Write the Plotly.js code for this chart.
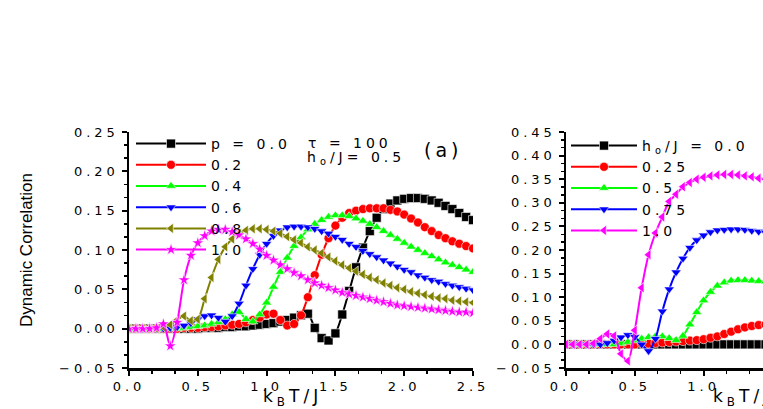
<!DOCTYPE html>
<html>
<head>
<meta charset="utf-8">
<script src="https://cdn.plot.ly/plotly-3.0.1.min.js"></script>
<style>
  body { margin: 0; background: #fff; }
  text { letter-spacing: 4px; }
  .ytitle { letter-spacing: 0 !important; }
</style>
</head>
<body>
<div id="plot" style="width:763px;height:409px;"></div>
<script>
// Panel (a): dynamic correlation vs kBT/J for several p values
let kT_left = [0, 0.05, 0.1, 0.15, 0.2, 0.25, 0.3, 0.35, 0.4, 0.45,
  0.5, 0.55, 0.6, 0.65, 0.7, 0.75, 0.8, 0.85, 0.9, 0.95,
  1.0, 1.05, 1.1, 1.15, 1.2, 1.25, 1.3, 1.35, 1.4, 1.45,
  1.5, 1.55, 1.6, 1.65, 1.7, 1.75, 1.8, 1.85, 1.9, 1.95,
  2.0, 2.05, 2.1, 2.15, 2.2, 2.25, 2.3, 2.35, 2.4, 2.45, 2.5];

let p00 = [0, 0, 0, 0, 0, 0, 0, 0, 0, 0,
  0, 0.001, 0.001, 0.001, 0.002, 0.002, 0.003, 0.003, 0.004, 0.005,
  0.006, 0.007, 0.009, 0.011, 0.014, 0.017, 0.019, 0.001, -0.012, -0.015,
  -0.006, 0.018, 0.048, 0.078, 0.103, 0.124, 0.141, 0.152, 0.159, 0.163,
  0.165, 0.166, 0.166, 0.165, 0.163, 0.160, 0.156, 0.152, 0.147, 0.142, 0.138];
let p02 = [0, 0, 0, 0, 0, 0, 0, 0, 0.001, 0.001,
  0.001, 0.002, 0.002, 0.003, 0.004, 0.005, 0.006, 0.008, 0.011, 0.014,
  0.018, 0.019, 0.011, 0.004, 0.006, 0.017, 0.040, 0.068, 0.094, 0.115,
  0.131, 0.141, 0.147, 0.150, 0.152, 0.153, 0.153, 0.153, 0.151, 0.149,
  0.145, 0.140, 0.135, 0.129, 0.124, 0.119, 0.115, 0.111, 0.108, 0.105, 0.102];
let p04 = [0, 0, 0, 0, 0, 0, 0, 0, 0.001, 0.002,
  0.003, 0.004, 0.006, 0.008, 0.012, 0.018, 0.021, 0.012, 0.009, 0.018,
  0.033, 0.053, 0.072, 0.090, 0.105, 0.116, 0.126, 0.133, 0.138, 0.142,
  0.144, 0.144, 0.143, 0.140, 0.137, 0.133, 0.129, 0.124, 0.119, 0.114,
  0.109, 0.104, 0.100, 0.096, 0.092, 0.088, 0.084, 0.081, 0.078, 0.075, 0.072];
let p06 = [0, 0, 0, 0, 0, 0, 0.001, 0.002, 0.004, 0.007,
  0.012, 0.016, 0.017, 0.014, 0.009, 0.016, 0.032, 0.055, 0.076, 0.094,
  0.108, 0.118, 0.125, 0.129, 0.130, 0.130, 0.129, 0.127, 0.124, 0.121,
  0.117, 0.113, 0.108, 0.104, 0.099, 0.095, 0.091, 0.087, 0.083, 0.079,
  0.075, 0.072, 0.068, 0.065, 0.062, 0.060, 0.057, 0.055, 0.053, 0.051, 0.049];
let p08 = [0, 0, 0, 0, 0, 0.002, 0.005, 0.011, 0.016, 0.010,
  0.012, 0.038, 0.065, 0.088, 0.104, 0.114, 0.121, 0.125, 0.127, 0.127,
  0.126, 0.124, 0.121, 0.117, 0.113, 0.109, 0.104, 0.100, 0.096, 0.091,
  0.086, 0.081, 0.077, 0.073, 0.069, 0.065, 0.062, 0.058, 0.055, 0.052,
  0.050, 0.047, 0.045, 0.043, 0.041, 0.039, 0.038, 0.036, 0.035, 0.034, 0.033];
let p10 = [0, 0, 0, 0, 0.001, 0.006, -0.022, 0.008, 0.062, 0.093,
  0.109, 0.118, 0.124, 0.126, 0.126, 0.123, 0.119, 0.114, 0.108, 0.101,
  0.093, 0.087, 0.081, 0.076, 0.071, 0.067, 0.062, 0.058, 0.055, 0.052,
  0.049, 0.046, 0.044, 0.042, 0.040, 0.038, 0.036, 0.034, 0.032, 0.030,
  0.029, 0.028, 0.027, 0.026, 0.025, 0.024, 0.023, 0.022, 0.021, 0.021, 0.020];

// Panel (b): dynamic correlation vs kBT/J for several ho/J values
let kT_right = [0, 0.05, 0.1, 0.15, 0.2, 0.25, 0.3, 0.35, 0.4, 0.45,
  0.5, 0.55, 0.6, 0.65, 0.7, 0.75, 0.8, 0.85, 0.9, 0.95,
  1.0, 1.05, 1.1, 1.15, 1.2, 1.25, 1.3, 1.35, 1.4, 1.45];

let h000 = [0, 0, 0, 0, 0, 0, 0, 0, 0, 0,
  0, 0, 0, 0, 0, 0, 0, 0, 0, 0,
  0, 0, 0, 0, 0, 0, 0, 0, 0, 0];
let h025 = [0, 0, 0, 0, 0, 0, 0, 0, 0, 0,
  0, 0.001, 0.002, 0.003, 0.004, 0.005, 0.006, 0.007, 0.008, 0.009,
  0.011, 0.014, 0.017, 0.022, 0.027, 0.032, 0.036, 0.039, 0.041, 0.042];
let h050 = [0, 0, 0, 0, 0, 0, 0, 0, 0.002, 0.005,
  0.008, 0.012, 0.015, 0.017, 0.017, 0.013, 0.009, 0.018, 0.042, 0.068,
  0.093, 0.111, 0.124, 0.131, 0.135, 0.136, 0.136, 0.135, 0.134, 0.133];
let h075 = [0, 0, 0, 0, 0, 0, 0.003, 0.008, 0.015, 0.020,
  0.016, 0.000, -0.014, 0.012, 0.070, 0.117, 0.153, 0.182, 0.205, 0.221,
  0.231, 0.238, 0.242, 0.243, 0.244, 0.244, 0.243, 0.241, 0.239, 0.237];
let h100 = [0, 0, 0, 0, 0.002, 0.012, 0.022, 0.018, -0.020, -0.035,
  0.030, 0.120, 0.190, 0.236, 0.270, 0.303, 0.318, 0.334, 0.343, 0.350,
  0.354, 0.357, 0.359, 0.360, 0.360, 0.359, 0.357, 0.355, 0.352, 0.350];

let leftNames = ['p = 0.0', '0.2', '0.4', '0.6', '0.8', '1.0'];
let leftSeries = [p00, p02, p04, p06, p08, p10];
let leftColors = ['#000000', '#ff0000', '#00ff00', '#0000ff', '#808000', '#ff00ff'];
let leftSymbols = ['square', 'circle', 'triangle-up', 'triangle-down', 'triangle-left', 'star'];

let rightNames = ['h<sub>o</sub>/J = 0.0', '0.25', '0.5', '0.75', '1.0'];
let rightSeries = [h000, h025, h050, h075, h100];
let rightColors = ['#000000', '#ff0000', '#00ff00', '#0000ff', '#ff00ff'];
let rightSymbols = ['square', 'circle', 'triangle-up', 'triangle-down', 'triangle-left'];

let font = 'DejaVu Sans, Arial, sans-serif';

function makeTrace(x, y, name, color, symbol, xa, ya, legend) {
  return {
    x: x, y: y, name: name,
    type: 'scatter', mode: 'lines+markers',
    xaxis: xa, yaxis: ya, legend: legend,
    line: { color: color, width: 2, shape: 'spline', smoothing: 0.8 },
    marker: { symbol: symbol, size: 9, color: color, line: { color: '#ffffff', width: 0.6 } }
  };
}

let data = [];
leftSeries.forEach((s, i) => data.push(makeTrace(kT_left, s, leftNames[i], leftColors[i], leftSymbols[i], 'x', 'y', 'legend')));
rightSeries.forEach((s, i) => data.push(makeTrace(kT_right, s, rightNames[i], rightColors[i], rightSymbols[i], 'x2', 'y2', 'legend2')));

let minorOut = (dt) => ({ ticks: 'outside', ticklen: 3, tickwidth: 1.5, tickcolor: '#000', dtick: dt, tick0: 0, showgrid: false });
let minorIn = (dt) => ({ ticks: 'inside', ticklen: 3, tickwidth: 1.5, tickcolor: '#000', dtick: dt, tick0: 0, showgrid: false });

// shared axis look (bottom / left)
function axis(extra) {
  return Object.assign({
    showline: true, linecolor: '#000', linewidth: 2.5,
    showgrid: false, zeroline: false,
    ticks: 'outside', ticklen: 5, tickwidth: 2, tickcolor: '#000',
    tickfont: { family: font, size: 13, color: '#000' }
  }, extra);
}
// top / right frame with inward ticks
function frame(extra) {
  return Object.assign({
    showline: true, linecolor: '#000', linewidth: 2.5,
    showgrid: false, zeroline: false, showticklabels: false,
    ticks: 'inside', ticklen: 5, tickwidth: 2, tickcolor: '#000'
  }, extra);
}

let xLeft = [129 / 763, 473 / 763];
let xRight = [566 / 763, 1];
let yDom = [1 - 368 / 409, 1 - 132 / 409];
let xRightMax = (763 - 566) / 137.6;

let layout = {
  width: 763, height: 409,
  margin: { l: 0, r: 0, t: 0, b: 0 },
  paper_bgcolor: '#fff', plot_bgcolor: 'rgba(0,0,0,0)',
  font: { family: font, size: 14, color: '#000' },
  xaxis: axis({ domain: xLeft, anchor: 'y', range: [0, 2.5], dtick: 0.5, tick0: 0, tickformat: '.1f',
    minor: minorOut(0.5 / 3) }),
  yaxis: axis({ domain: yDom, anchor: 'x', range: [-0.05, 0.25], dtick: 0.05, tick0: 0, tickformat: '.2f',
    minor: minorOut(0.05 / 3),
    title: { text: 'Dynamic Correlation', font: { family: 'Liberation Sans Narrow, Arial Narrow, sans-serif', size: 17 }, standoff: 22 } }),
  xaxis3: frame({ overlaying: 'x', side: 'top', anchor: 'y', range: [0, 2.5], dtick: 0.5, tick0: 0, minor: minorIn(0.5 / 3) }),
  yaxis3: frame({ overlaying: 'y', side: 'right', anchor: 'x', range: [-0.05, 0.25], dtick: 0.05, tick0: 0, minor: minorIn(0.05 / 3) }),
  xaxis2: axis({ domain: xRight, anchor: 'y2', range: [0, xRightMax], dtick: 0.5, tick0: 0, tickformat: '.1f',
    minor: minorOut(0.5 / 3) }),
  yaxis2: axis({ domain: yDom, anchor: 'x2', range: [-0.05, 0.45], dtick: 0.05, tick0: 0, tickformat: '.2f',
    minor: minorOut(0.05 / 3) }),
  xaxis4: frame({ overlaying: 'x2', side: 'top', anchor: 'y2', range: [0, xRightMax], dtick: 0.5, tick0: 0, minor: minorIn(0.5 / 3) }),
  legend: { x: 131 / 763, y: 1 - 128 / 409, xanchor: 'left', yanchor: 'top', bgcolor: 'rgba(0,0,0,0)',
    itemwidth: 70, font: { family: font, size: 14 }, tracegroupgap: 0 },
  legend2: { x: 566 / 763, y: 1 - 130 / 409, xanchor: 'left', yanchor: 'top', bgcolor: 'rgba(0,0,0,0)',
    itemwidth: 66, font: { family: font, size: 14 }, tracegroupgap: 0 },
  annotations: [
    { text: '\u03c4 = 100', xref: 'paper', yref: 'paper', x: 306 / 763, y: 1 - 143 / 409, xanchor: 'left', yanchor: 'middle', showarrow: false, font: { family: font, size: 14 } },
    { text: 'h<sub>o</sub>/J= 0.5', xref: 'paper', yref: 'paper', x: 305 / 763, y: 1 - 158 / 409, xanchor: 'left', yanchor: 'middle', showarrow: false, font: { family: font, size: 14 } },
    { text: '(a)', xref: 'paper', yref: 'paper', x: 443 / 763, y: 1 - 150 / 409, xanchor: 'center', yanchor: 'middle', showarrow: false, font: { family: font, size: 19 } },
    // x-axis titles (the right one runs past the edge, as in the original)
    { text: 'k<sub>B</sub>T/J', xref: 'paper', yref: 'paper', x: 292 / 763, y: 1 - 397 / 409, xanchor: 'center', yanchor: 'middle', showarrow: false, font: { family: font, size: 17 } },
    { text: 'k<sub>B</sub>T/J', xref: 'paper', yref: 'paper', x: 742 / 763, y: 1 - 397 / 409, xanchor: 'center', yanchor: 'middle', showarrow: false, font: { family: font, size: 17 } }
  ],
  hovermode: false
};

Plotly.newPlot('plot', data, layout, { staticPlot: true });
</script>
</body>
</html>
